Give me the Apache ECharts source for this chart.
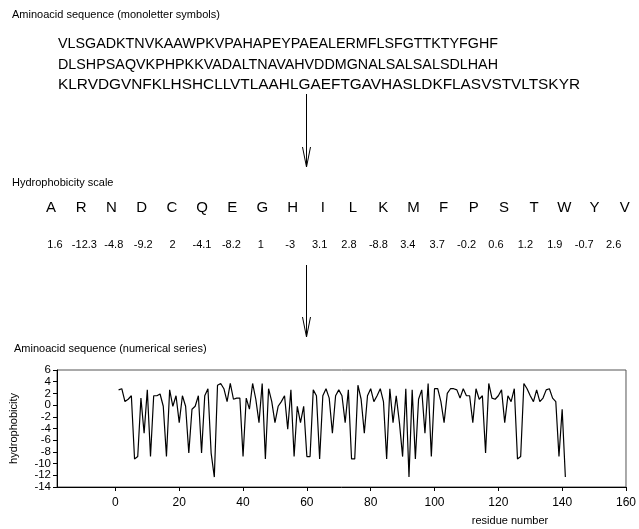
<!DOCTYPE html>
<html>
<head>
<meta charset="utf-8">
<script src="https://cdn.jsdelivr.net/npm/echarts@6/dist/echarts.min.js"></script>
<style>
html,body{margin:0;padding:0;background:#fff;}
#c{width:639px;height:529px;}
</style>
</head>
<body>
<div id="c"></div>
<script>
// ---- data ----
const sequenceLines = [
  'VLSGADKTNVKAAWPKVPAHAPEYPAEALERMFLSFGTTKTYFGHF',
  'DLSHPSAQVKPHPKKVADALTNAVAHVDDMGNALSALSALSDLHAH',
  'KLRVDGVNFKLHSHCLLVTLAAHLGAEFTGAVHASLDKFLASVSTVLTSKYR'
];
const scaleLetters = ['A','R','N','D','C','Q','E','G','H','I','L','K','M','F','P','S','T','W','Y','V'];
const scaleValues = ['1.6','-12.3','-4.8','-9.2','2','-4.1','-8.2','1','-3','3.1','2.8','-8.8','3.4','3.7','-0.2','0.6','1.2','1.9','-0.7','2.6'];
const hydrophobicity = [
  2.6, 2.8, 0.6, 1, 1.6, -9.2, -8.8, 1.2, -4.8, 2.6,
  -8.8, 1.6, 1.6, 1.9, -0.2, -8.8, 2.6, -0.2, 1.6, -3,
  1.6, -0.2, -8.2, -0.7, -0.2, 1.6, -8.2, 1.6, 2.8, -8.2,
  -12.3, 3.4, 3.7, 2.8, 0.6, 3.7, 1, 1.2, 1.2, -8.8,
  1.2, -0.7, 3.7, 1, -3, 3.7, -9.2, 2.8, 0.6, -3,
  -0.2, 0.6, 1.6, -4.1, 2.6, -8.8, -0.2, -3, -0.2, -8.8,
  -8.8, 2.6, 1.6, -9.2, 1.6, 2.8, 1.2, -4.8, 1.6, 2.6,
  1.6, -3, 2.6, -9.2, -9.2, 3.4, 1, -4.8, 1.6, 2.8,
  0.6, 1.6, 2.8, 0.6, -9.2, 2.8, -3, 1.6, -3, -8.8,
  2.8, -12.3, 2.6, -9.2, 1, 2.6, -4.8, 3.7, -8.8, 2.8,
  2.8, 0.6, -3, 2, 2.8, 2.8, 2.6, 1.2, 2.8, 1.6,
  1.6, -3, 2.8, 1, 1.6, -8.2, 3.7, 1.2, 1, 1.6,
  2.6, -3, 1.6, 0.6, 2.8, -9.2, -8.8, 3.7, 2.8, 1.6,
  0.6, 2.6, 0.6, 1.2, 2.6, 2.8, 1.2, 0.6, -8.8, -0.7,
  -12.3
];
const xTickValues = [0, 20, 40, 60, 80, 100, 120, 140, 160];
const yLabelsA = [-14, -10, -6, -2, 2, 6];
const yLabelsB = [-12, -8, -4, 0, 4];
const titles = {
  seq: 'Aminoacid sequence (monoletter symbols)',
  scale: 'Hydrophobicity scale',
  series: 'Aminoacid sequence (numerical series)',
  xName: 'residue number',
  yName: 'hydrophobicity'
};

// ---- chart ----
const FONT = '"Liberation Sans", Arial, sans-serif';
const chart = echarts.init(document.getElementById('c'), null, {renderer: 'canvas'});

const measureCtx = document.createElement('canvas').getContext('2d');
function measure(s, size) { measureCtx.font = size + 'px ' + FONT; return measureCtx.measureText(s).width; }

const g = [];
function txt(x, y, s, size, align, sx) {
  const el = {type: 'text', x: x, y: y, style: {text: s, font: size + 'px ' + FONT, fill: '#000', textAlign: align || 'left', textVerticalAlign: 'middle'}};
  if (sx) { el.scaleX = sx; }
  g.push(el);
}
txt(12, 15, titles.seq, 11);
const seqWidths = [440, 440, 522];
sequenceLines.forEach((s, i) => txt(58, 44 + i * 20.5, s, 14.6, 'left', seqWidths[i] / measure(s, 14.6)));
txt(12, 183, titles.scale, 11);
scaleLetters.forEach((s, i) => txt(51 + i * 30.2, 208, s, 15, 'center'));
scaleValues.forEach((s, i) => txt(55 + i * 29.4, 245, s, 11, 'center'));
txt(14, 349, titles.series, 11);
txt(510, 521, titles.xName, 11, 'center');

function arrow(x, y1, y2) {
  g.push({type: 'line', shape: {x1: x, y1: y1, x2: x, y2: y2}, style: {stroke: '#000', lineWidth: 1}});
  g.push({type: 'polyline', shape: {points: [[x - 4, y2 - 20], [x, y2], [x + 4, y2 - 20]]}, style: {stroke: '#000', lineWidth: 1, fill: null}});
}
arrow(306.5, 94, 167);
arrow(306.5, 265, 337);

const yLabelStyle = {color: '#000', fontSize: 11.5, margin: 6, fontFamily: FONT};
chart.setOption({
  animation: false,
  backgroundColor: '#fff',
  textStyle: {fontFamily: FONT},
  grid: {left: 52, right: 12, top: 370, bottom: 42, show: true, borderColor: '#555', borderWidth: 1},
  xAxis: {
    type: 'value', min: -18.3, max: 160,
    axisLine: {show: true, onZero: false, lineStyle: {color: '#000', width: 1}},
    axisTick: {show: true, length: 4, lineStyle: {color: '#000'}, customValues: xTickValues},
    axisLabel: {color: '#000', fontSize: 12, margin: 10, fontFamily: FONT, customValues: xTickValues},
    splitLine: {show: false}
  },
  yAxis: [{
    type: 'value', min: -14, max: 6, interval: 2, position: 'left',
    name: titles.yName, nameLocation: 'middle', nameRotate: 90, nameGap: 38,
    nameTextStyle: {color: '#000', fontSize: 11, fontFamily: FONT},
    axisLine: {show: true, onZero: false, lineStyle: {color: '#000', width: 1}},
    axisTick: {show: true, length: 4, lineStyle: {color: '#000'}},
    axisLabel: Object.assign({customValues: yLabelsA}, yLabelStyle),
    splitLine: {show: false}
  }, {
    type: 'value', min: -14, max: 6, interval: 2, position: 'left', offset: 0,
    axisLine: {show: false}, axisTick: {show: false},
    axisLabel: Object.assign({customValues: yLabelsB}, yLabelStyle),
    splitLine: {show: false}
  }],
  series: [{
    type: 'line',
    yAxisIndex: 0,
    data: hydrophobicity.map((v, i) => [i + 1, v]),
    showSymbol: false, symbol: 'none',
    lineStyle: {color: '#000', width: 1.2},
    silent: true
  }],
  graphic: g
});
</script>
</body>
</html>
